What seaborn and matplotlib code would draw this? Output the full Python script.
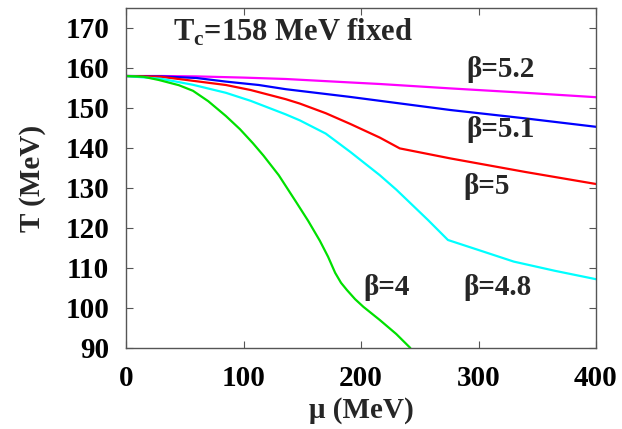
import pandas as pd
import matplotlib
matplotlib.use("Agg")
import matplotlib.pyplot as plt
import seaborn as sns

# curves, mu in MeV, T in MeV
mu_52 = [0, 30, 60, 100, 136, 190, 216, 276, 340, 400]
T_52 = [158, 158, 157.9, 157.6, 157.25, 156.4, 156.0, 154.9, 153.8, 152.7]

mu_51 = [0, 30, 60, 85, 113, 136, 190, 216, 276, 340, 400]
T_51 = [158, 157.9, 157.5, 156.6, 155.75, 154.7, 152.8, 151.8, 149.5, 147.4, 145.3]

mu_5 = [0, 30, 57, 85, 106, 136, 148, 170, 191, 216, 233, 276, 340, 400]
T_5 = [158, 157.8, 156.8, 155.75, 154.5, 152.2, 151.1, 148.7, 146.0, 142.6,
       139.9, 137.4, 134.0, 131.0]

mu_48 = [0, 30, 57, 85, 106, 136, 148, 170, 191, 216, 230, 257, 274, 300,
         330, 365, 400]
T_48 = [158, 157.3, 155.8, 153.8, 151.8, 148.4, 146.9, 143.6, 139.0, 133.2,
        129.6, 122.0, 117.0, 114.5, 111.6, 109.3, 107.2]

mu_4 = [0, 15, 28, 45, 57, 70, 85, 97, 108, 117, 130, 145, 155, 165, 172,
        178, 183, 188, 195, 202, 216, 230, 242]
T_4 = [158, 157.8, 157.0, 155.7, 154.3, 151.7, 148.0, 144.7, 141.2, 138.1,
       133.2, 126.4, 121.8, 116.8, 112.8, 108.8, 106.3, 104.5, 102.2, 100.3,
       97.0, 93.5, 90.0]

series = [("5.2", mu_52, T_52, "#ff00ff"),
          ("5.1", mu_51, T_51, "#0000ff"),
          ("5", mu_5, T_5, "#ff0000"),
          ("4.8", mu_48, T_48, "#00ffff"),
          ("4", mu_4, T_4, "#00e000")]

sns.set_style("ticks")
plt.rcParams["font.family"] = ["Liberation Serif", "DejaVu Serif"]
plt.rcParams["font.weight"] = "bold"
plt.rcParams["mathtext.fontset"] = "custom"
plt.rcParams["mathtext.rm"] = "Liberation Serif:bold"

fs = 21
fig = plt.figure(figsize=(6.22, 4.29), dpi=100)
ax = fig.add_axes([126 / 622, 1 - 348 / 429, 470 / 622, 340 / 429])

for name, mu, T, col in series:
    df = pd.DataFrame({"mu": mu, "T": T})
    sns.lineplot(data=df, x="mu", y="T", color=col, linewidth=1.6, ax=ax,
                 sort=False, estimator=None)

ax.set_xlim(0, 400)
ax.set_ylim(90, 175)
ax.set_xticks([0, 100, 200, 300, 400])
ax.set_yticks(range(90, 171, 10))
ax.tick_params(direction="in", length=5, width=0.8, top=True, right=True,
               labelsize=fs, colors="#555555", labelcolor="black")
ax.tick_params(axis="y", pad=12)
ax.tick_params(axis="x", pad=12)
for lab in ax.get_xticklabels() + ax.get_yticklabels():
    lab.set_fontweight("bold")
for s in ax.spines.values():
    s.set_color("#555555")
    s.set_linewidth(1.0)

ax.set_xlabel("μ (MeV)", fontsize=fs, fontweight="bold", labelpad=4)
ax.set_ylabel("T (MeV)", fontsize=fs, fontweight="bold", labelpad=14)

ax.text(40, 168.8, r"T$_{\mathrm{c}}$=158 MeV fixed", fontsize=fs + 1,
        fontweight="bold", va="center", ha="left")
ax.text(290, 159.5, "β=5.2", fontsize=fs, fontweight="bold", va="center")
ax.text(290, 144.5, "β=5.1", fontsize=fs, fontweight="bold", va="center")
ax.text(287, 130.3, "β=5", fontsize=fs, fontweight="bold", va="center")
ax.text(287, 105, "β=4.8", fontsize=fs, fontweight="bold", va="center")
ax.text(202, 105, "β=4", fontsize=fs, fontweight="bold", va="center")

fig.savefig("out.png", dpi=100)
